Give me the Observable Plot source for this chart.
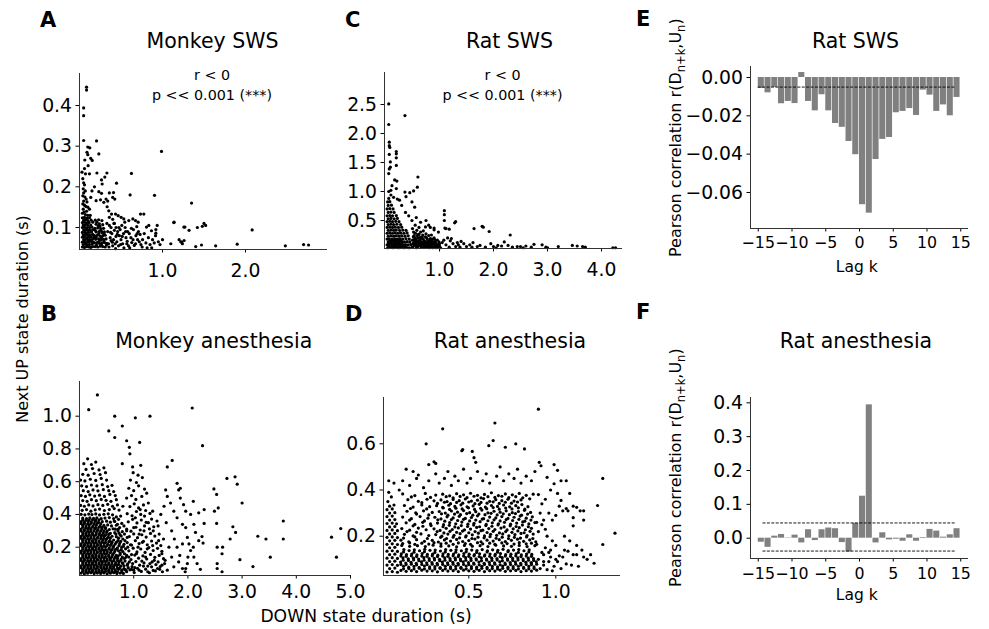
<!DOCTYPE html>
<html><head><meta charset="utf-8">
<script src="https://cdn.jsdelivr.net/npm/d3@7"></script>
<script src="https://cdn.jsdelivr.net/npm/@observablehq/plot@0.6"></script>
<style>
body{margin:0;background:#fff;}
#fig{position:relative;width:989px;height:629px;overflow:hidden;background:#fff;font-family:"DejaVu Sans",sans-serif;}
</style></head>
<body><div id="fig"></div>
<script>
// ---------- DATA (x = DOWN state duration s, y = next UP state duration s), flat pairs ----------
const monkeySWS = [
.085,.445, .085,.438, .05,.394, .05,.375, .05,.314, .205,.313, .10,.298, .124,.296, .233,.281, .09,.285, .10,.279, .988,.287, .135,.27, .153,.265, .064,.266, .104,.252, .06,.245, .03,.236, .072,.232, .12,.232, .21,.234, .33,.234, .305,.224, .265,.217, .273,.207, .626,.233, .446,.209, .904,.179, .61,.18, 1.35,.16, .233,.188, .265,.184, .36,.185, .41,.186, .40,.174, .425,.17, .32,.17, .34,.165, .15,.19, .18,.20,
1.136,.112, 1.27,.101, 1.32,.093, 1.42,.10, 1.48,.103, 1.50,.11, 1.52,.105, 2.08,.094, .92,.095, .92,.086, 1.0,.07, 1.10,.06, 1.20,.07, 1.22,.065, 1.24,.06, 1.26,.068, 1.40,.053, 1.47,.057, 1.64,.055, 1.90,.059, 2.48,.055, 2.70,.058, 2.76,.057, 1.14,.113, 1.257,.101, 1.23,.064,
.136,.174, .20,.166, .253,.168, .293,.162, .333,.151, .353,.141, .386,.133, .434,.133, .466,.129, .502,.125, .534,.121, .546,.113, .594,.117, .643,.121, .675,.117, .707,.113, .735,.133, .775,.133, .807,.101, .835,.105, .867,.092, .916,.08, .936,.105,
.55,.10, .58,.09, .60,.085, .62,.075, .65,.095, .68,.08, .70,.07, .72,.065, .74,.058, .76,.07, .78,.085, .80,.062, .83,.075, .85,.058, .88,.07, .90,.062, .95,.065, .97,.058, .40,.12, .42,.11, .44,.10, .46,.09, .48,.08, .50,.07, .52,.06, .45,.065, .47,.055, .49,.095, .51,.105, .53,.085, .56,.075, .57,.06, .59,.055, .63,.063, .66,.056, .69,.102, .71,.09, .73,.083, .36,.125, .38,.10, .39,.085, .41,.07, .43,.06, .35,.06, .37,.075, .42,.093, .44,.078, .33,.11, .34,.09, .36,.105, .38,.068, .40,.055,
.355,.052, .375,.088, .395,.064, .415,.11, .435,.048, .455,.083, .475,.10, .495,.058, .515,.078, .535,.05, .555,.09, .575,.066, .605,.05, .625,.098, .645,.07, .675,.06, .695,.085, .755,.052, .815,.05, .87,.05,
.04,.22, .05,.21, .06,.205, .045,.195, .07,.19, .05,.185, .04,.178, .065,.175, .08,.17, .05,.165, .09,.163, .04,.158, .06,.155, .075,.152, .10,.15, .045,.145, .12,.145, .085,.14, .055,.138, .035,.135, .07,.132, .10,.13, .13,.13,
.035,.052, .06,.051, .085,.053, .11,.052, .135,.051, .16,.053,
.045,.058, .07,.059, .095,.057, .12,.058, .15,.059,
.035,.064, .06,.065, .085,.063, .11,.064, .14,.066, .165,.064,
.05,.070, .075,.071, .10,.069, .125,.070, .155,.071,
.035,.076, .06,.077, .09,.075, .115,.076, .14,.077, .17,.075,
.045,.082, .07,.083, .10,.081, .13,.082, .16,.083,
.035,.088, .06,.089, .085,.087, .11,.088, .145,.089,
.05,.094, .075,.095, .10,.093, .13,.094, .165,.095,
.035,.100, .06,.101, .09,.099, .12,.100, .15,.101,
.045,.106, .07,.107, .10,.105, .135,.106,
.035,.112, .06,.113, .085,.111, .115,.112, .16,.113,
.05,.118, .075,.119, .10,.117, .14,.118,
.035,.124, .06,.125, .09,.123, .12,.124,
.19,.053, .22,.052, .25,.054, .28,.053, .31,.052,
.18,.062, .21,.063, .24,.061, .27,.062, .30,.063, .33,.061,
.195,.071, .23,.072, .26,.070, .29,.071, .32,.072,
.18,.080, .215,.081, .25,.079, .28,.080, .31,.081,
.20,.089, .235,.090, .27,.088, .30,.089,
.185,.098, .22,.099, .255,.097, .29,.098,
.20,.108, .24,.109, .28,.107,
.19,.118, .23,.119, .27,.117,
.205,.057, .235,.066, .265,.057, .295,.067, .325,.057, .20,.076, .232,.085, .265,.075, .295,.085, .19,.093, .225,.104, .26,.093, .21,.113, .245,.103
];

const ratSWS = [
.06,2.51, .06,2.155, .36,2.31, .07,1.79, .07,1.85, .08,1.76, .20,1.69, .20,1.65, .07,1.64, .06,1.31, .07,1.39, .20,1.58, .20,1.45, .09,1.51, .09,1.42, .17,1.20, .21,1.18, .12,1.10, .20,1.05, .10,1.02, .06,1.00, .60,1.25, .59,1.075, .52,1.01, .45,.98, .36,.99, .38,.91, .49,.82, .54,.73, .10,.94, .15,.90, .22,.87, .26,.85, 1.09,.67, 1.09,.60, 1.09,.50, 1.10,.37, 1.12,.36, 1.18,.35, 1.28,.46, 1.30,.48, 1.64,.36, 1.79,.40, 1.81,.385, 1.92,.31, 2.31,.25, .75,.50, .80,.42, .90,.34, .98,.30, .30,.76, .37,.64, .43,.58, .49,.50, .57,.55, .65,.47, .74,.39, .83,.38, .90,.37, .68,.22, .75,.27, .80,.24, .86,.18,
2.20,.13, 2.27,.07, 2.60,.06, 2.75,.09, 2.90,.08, 2.97,.04, 3.20,.05, 3.46,.07, 3.55,.06, 3.65,.05, 4.21,.03, 4.26,.03, 2.44,.05, 2.50,.05, 2.00,.05, 2.08,.07, 2.15,.06, 1.95,.10, 2.05,.03, 1.56,.08, 1.62,.12, 1.70,.05, 1.40,.14, 1.45,.10, 1.50,.05, 1.20,.15, 1.25,.10, 1.33,.12, 1.30,.05, 1.15,.20, 1.12,.08, 1.60,.04, 1.75,.07, 1.85,.04, 1.35,.08, 1.38,.04, 1.05,.12, 1.00,.06, 1.02,.03, 1.08,.16, 1.18,.04, 1.22,.19, 2.35,.04, 2.55,.03, 2.70,.04, 3.00,.03, 3.70,.04,
.52,.30, .55,.20, .58,.12, .60,.05, .62,.26, .64,.16, .66,.08, .70,.18, .72,.10, .74,.04, .78,.14, .80,.07, .84,.11, .88,.05, .92,.13, .95,.08, .98,.04, .90,.20, .85,.25, .70,.32, .62,.38, .55,.42, .50,.36, .53,.24, .56,.14, .60,.20, .65,.30, .68,.12, .72,.06, .76,.20, .82,.16, .86,.09, .93,.06, 1.00,.10, .58,.33, .50,.16, .54,.07, .63,.10, .78,.04, .96,.16, .57,.03, .61,.15, .67,.04, .69,.25, .73,.14, .77,.09, .81,.03, .83,.19, .89,.12, .94,.03, .99,.13, .51,.10, .59,.24, .64,.06,
.505,.045, .525,.12, .545,.085, .565,.17, .585,.05, .605,.11, .625,.07, .645,.21, .655,.13, .675,.05, .69,.09, .71,.15, .725,.035, .745,.12, .76,.07, .775,.18, .795,.10, .81,.05, .825,.13, .845,.07, .86,.15, .875,.03, .895,.09, .915,.05, .935,.11, .955,.04, .975,.08, .995,.05, .53,.17, .57,.09, .61,.26, .66,.19, .70,.04, .74,.22, .79,.13, .83,.04, .87,.11, .91,.17, .515,.22, .555,.28,
.04,.03, .09,.035, .14,.03, .19,.035, .24,.03, .29,.035, .34,.03, .39,.035, .44,.03, .49,.035,
.03,.08, .07,.085, .12,.08, .17,.085, .22,.08, .27,.085, .32,.08, .37,.085, .42,.08, .47,.085,
.05,.13, .10,.135, .15,.13, .20,.135, .25,.13, .30,.135, .35,.13, .40,.135, .45,.13,
.03,.18, .07,.185, .12,.18, .17,.185, .22,.18, .27,.185, .32,.18, .38,.185, .44,.18,
.05,.23, .10,.235, .15,.23, .20,.235, .25,.23, .30,.235, .36,.23, .42,.235,
.03,.28, .08,.285, .13,.28, .18,.285, .23,.28, .28,.285, .34,.28, .40,.285,
.05,.33, .10,.335, .15,.33, .20,.335, .26,.33, .32,.335, .38,.33,
.03,.38, .08,.385, .13,.38, .18,.385, .24,.38, .30,.385,
.05,.43, .10,.435, .15,.43, .21,.435, .28,.43,
.03,.48, .08,.485, .13,.48, .19,.485, .25,.48,
.05,.53, .10,.535, .16,.53, .22,.535,
.03,.58, .08,.585, .13,.58, .20,.585,
.05,.64, .10,.645, .16,.64,
.03,.70, .08,.705, .14,.70,
.05,.76, .11,.765,
.04,.82, .08,.825,
.06,.88,
.06,.055, .115,.06, .165,.055, .215,.06, .265,.055, .315,.06, .365,.055,
.055,.105, .105,.11, .155,.105, .205,.11, .255,.105, .305,.11,
.08,.155, .13,.16, .18,.155, .23,.16, .28,.155
];

const monkeyAnes = [
.33,1.13, .17,1.04, .65,1.0, 1.03,.99, 1.30,1.0, 2.08,1.05, .54,.91, .79,.94, .65,.87, .87,.85, .92,.81, .93,.77, 1.11,.84, .15,.74, 2.27,.82, 1.71,.73, 1.62,.69, .79,.71, .98,.69, 1.13,.70, 2.72,.62, 2.87,.63, 2.91,.585, 3.0,.47, 2.1,.48, 1.86,.56, 2.48,.556, 2.53,.522, 2.56,.44, 2.53,.345, 2.49,.42, 2.2,.41, 2.3,.43, 2.3,.345, 2.26,.265, 2.28,.225, 2.83,.325, 2.78,.25, 2.88,.29, 3.29,.267, 3.44,.25, 3.76,.36, 3.76,.25, 3.52,.139, 2.96,.124, 3.2,.082, 2.54,.2, 2.64,.2, 2.63,.16, 2.54,.1, 2.54,.07, 2.63,.05, 2.23,.065, 1.96,.07, 4.65,.261, 4.74,.139, 4.82,.314,
1.59,.55, 1.62,.51, 1.68,.47, 1.74,.42, 1.80,.38, 1.9,.34, 1.96,.32, 1.99,.26, 2.02,.22, 2.05,.18, 2.11,.14, 2.17,.10, 1.99,.10, 1.9,.07, 1.74,.08, 1.62,.06, 1.80,.59, 1.83,.55, 1.86,.5, 1.92,.46, 1.96,.42, 2.05,.40, 2.11,.34, 2.14,.29, 2.2,.24, 1.7,.3, 1.75,.25, 1.8,.2, 1.85,.15, 1.9,.22, 1.6,.35, 1.65,.2, 1.55,.25, 1.7,.14, 1.58,.12, 2.0,.14, 2.1,.2, 1.95,.05, 1.83,.11, 1.5,.4, 1.52,.16, 1.56,.45,
.87,.05, .93,.062, 1.01,.045, 1.07,.071, 1.14,.052, 1.22,.066, 1.29,.044, 1.36,.058, 1.44,.07, 1.53,.05,
.89,.098, .97,.081, 1.04,.112, 1.11,.09, 1.19,.104, 1.26,.085, 1.34,.11, 1.41,.094, 1.49,.082, 1.57,.10,
.86,.14, .95,.125, 1.02,.152, 1.09,.133, 1.17,.147, 1.24,.128, 1.31,.156, 1.39,.138, 1.47,.15, 1.55,.13,
.91,.178, .99,.194, 1.06,.171, 1.13,.189, 1.21,.168, 1.28,.198, 1.36,.18, 1.44,.193, 1.52,.175,
.88,.228, .96,.213, 1.03,.24, 1.10,.222, 1.18,.236, 1.25,.215, 1.33,.238, 1.42,.225, 1.50,.21,
.92,.265, 1.0,.281, 1.07,.258, 1.15,.276, 1.23,.262, 1.31,.284, 1.39,.268, 1.47,.28,
.87,.31, .95,.298, 1.04,.322, 1.12,.305, 1.2,.33, 1.29,.312, 1.37,.325,
.9,.355, .98,.37, 1.06,.348, 1.14,.366, 1.23,.352, 1.33,.372, 1.43,.36,
.88,.405, .97,.392, 1.05,.418, 1.13,.40, 1.22,.424, 1.30,.406,
.93,.448, 1.01,.465, 1.09,.44, 1.18,.458, 1.27,.47,
.87,.50, .96,.515, 1.04,.492, 1.15,.51, 1.24,.53,
.91,.56, 1.0,.545, 1.09,.575, 1.2,.555,
.94,.61, 1.05,.595, 1.16,.625,
.99,.655, 1.08,.64,
1.02,.075, 1.10,.06, 1.18,.085, 1.26,.05, 1.33,.08, 1.40,.055, 1.48,.065,
1.05,.16, 1.15,.115, 1.22,.14, 1.30,.10, 1.38,.12, 1.45,.11, 1.52,.09,
1.08,.20, 1.16,.23, 1.25,.19, 1.35,.21, 1.46,.24,
1.0,.32, 1.10,.28, 1.19,.30, 1.27,.35, 1.36,.30, 1.45,.33,
1.03,.38, 1.12,.43, 1.20,.39, 1.35,.42,
.70,.05, .74,.072, .78,.048, .82,.07, .86,.06, .90,.075, .96,.065, 1.0,.06,
.72,.095, .76,.12, .80,.10, .84,.115, .88,.09, .92,.11, .98,.10,
.71,.145, .75,.165, .79,.14, .83,.16, .87,.15, .91,.14, .96,.155,
.69,.19, .73,.21, .77,.185, .81,.205, .85,.19, .89,.20, .94,.215,
.68,.23, .72,.255, .76,.235, .80,.25, .84,.24, .88,.26,
.67,.28, .71,.30, .75,.275, .79,.295, .83,.28, .87,.30,
.66,.31, .70,.34, .74,.32, .78,.345, .82,.33,
.64,.36, .68,.385, .72,.37, .76,.39,
.03,.042, .09,.038, .15,.041, .21,.044, .27,.039, .33,.042, .39,.04, .45,.043, .51,.038, .57,.041, .63,.044, .69,.039, .75,.042, .81,.04,
.06,.063, .12,.06, .18,.065, .24,.061, .30,.064, .36,.059, .42,.063, .48,.066, .54,.06, .60,.064, .66,.061, .72,.065, .78,.06, .84,.063,
.03,.086, .09,.083, .15,.087, .21,.084, .27,.088, .33,.083, .39,.086, .45,.082, .51,.087, .57,.085, .63,.083, .69,.088, .76,.084, .82,.086,
.06,.108, .12,.105, .18,.11, .24,.106, .30,.109, .36,.104, .42,.108, .48,.111, .54,.105, .60,.109, .67,.106, .73,.11, .79,.104,
.03,.131, .09,.128, .15,.132, .21,.129, .27,.133, .33,.127, .39,.131, .45,.134, .51,.128, .57,.132, .64,.129, .70,.133, .77,.128, .83,.131,
.06,.153, .12,.15, .18,.155, .24,.151, .30,.154, .36,.149, .42,.153, .48,.156, .54,.15, .61,.154, .68,.151, .75,.155,
.03,.176, .09,.173, .15,.177, .21,.174, .27,.178, .33,.172, .39,.176, .45,.179, .51,.173, .58,.177, .65,.174, .72,.178, .80,.173,
.06,.198, .12,.195, .18,.2, .24,.196, .30,.199, .36,.194, .42,.198, .48,.201, .55,.195, .62,.199, .70,.196, .78,.2,
.03,.221, .09,.218, .15,.222, .21,.219, .27,.223, .33,.217, .39,.221, .46,.224, .52,.218, .59,.222, .66,.219, .74,.223, .82,.218,
.06,.243, .12,.24, .18,.245, .24,.241, .30,.244, .36,.239, .43,.243, .49,.246, .56,.24, .63,.244, .71,.241,
.03,.266, .09,.263, .15,.267, .21,.264, .27,.268, .34,.262, .40,.266, .46,.269, .53,.263, .60,.267, .68,.264, .77,.268,
.06,.288, .12,.285, .18,.29, .24,.286, .31,.289, .37,.284, .44,.288, .50,.291, .57,.285, .65,.289, .73,.286,
.03,.311, .09,.308, .15,.312, .21,.309, .28,.313, .34,.307, .41,.311, .48,.314, .55,.308, .62,.312, .71,.309,
.06,.333, .12,.33, .18,.335, .25,.331, .31,.334, .38,.329, .45,.333, .52,.336, .59,.33, .68,.334,
.03,.356, .09,.353, .16,.357, .22,.354, .29,.358, .35,.352, .42,.356, .50,.359, .57,.353, .65,.357,
.06,.378, .13,.375, .19,.38, .26,.376, .32,.379, .40,.374, .47,.378, .55,.381, .63,.375,
.03,.401, .10,.398, .17,.402, .23,.399, .30,.403, .37,.397, .45,.401, .53,.404, .61,.398,
.06,.052, .12,.05, .18,.053, .24,.051, .30,.05, .36,.052, .42,.051, .48,.053, .54,.05, .60,.052, .66,.051,
.03,.074, .09,.075, .15,.073, .21,.074, .27,.076, .33,.073, .39,.075, .45,.074, .51,.073, .57,.075, .63,.074, .70,.073,
.06,.097, .12,.095, .18,.096, .24,.098, .30,.095, .36,.097, .42,.096, .48,.095, .54,.098, .60,.096, .66,.095,
.03,.119, .09,.12, .15,.118, .21,.12, .27,.119, .33,.121, .39,.118, .45,.12, .51,.119, .57,.121, .63,.118, .70,.12,
.06,.142, .12,.14, .18,.141, .24,.143, .30,.14, .36,.142, .42,.141, .48,.14, .54,.143, .60,.141, .66,.14,
.03,.164, .09,.165, .15,.163, .21,.165, .27,.164, .33,.166, .39,.163, .45,.165, .51,.164, .57,.166, .63,.163,
.06,.187, .12,.185, .18,.186, .24,.188, .30,.185, .36,.187, .42,.186, .48,.185, .54,.188, .60,.186, .66,.185,
.03,.209, .09,.21, .15,.208, .21,.21, .27,.209, .33,.211, .39,.208, .45,.21, .51,.209, .57,.211, .63,.208,
.06,.232, .12,.23, .18,.231, .24,.233, .30,.23, .36,.232, .42,.231, .48,.23, .54,.233, .60,.231,
.03,.254, .09,.255, .15,.253, .21,.255, .27,.254, .33,.256, .39,.253, .45,.255, .51,.254, .57,.256,
.06,.277, .12,.275, .18,.276, .24,.278, .30,.275, .36,.277, .42,.276, .48,.275, .54,.278,
.03,.299, .09,.30, .15,.298, .21,.30, .27,.299, .33,.301, .39,.298, .45,.30, .51,.299,
.06,.322, .12,.32, .18,.321, .24,.323, .30,.32, .36,.322, .42,.321, .48,.32,
.03,.344, .09,.345, .15,.343, .21,.345, .27,.344, .33,.346, .39,.343,
.06,.367, .12,.365, .18,.366, .24,.368, .30,.365, .36,.367,
.05,.425, .13,.43, .21,.42, .29,.428, .37,.433, .46,.424, .55,.43, .64,.436, .73,.427,
.02,.455, .09,.45, .17,.458, .25,.452, .34,.46, .43,.455, .52,.462, .61,.45, .70,.458, .80,.45,
.06,.485, .14,.48, .22,.49, .31,.484, .40,.492, .49,.486, .58,.48, .68,.49,
.03,.515, .11,.51, .19,.52, .28,.512, .37,.518, .46,.51, .56,.522, .66,.515,
.07,.545, .16,.54, .25,.55, .34,.544, .44,.552, .54,.545, .63,.54,
.04,.575, .13,.57, .22,.58, .32,.574, .42,.582, .52,.57, .60,.578,
.02,.61, .10,.605, .20,.615, .30,.608, .40,.62, .50,.61,
.06,.645, .16,.64, .27,.65, .38,.644, .48,.655,
.12,.675, .24,.68, .36,.672, .45,.685,
.08,.71, .22,.705, .30,.72
];

const ratAnes = [
.90,.75, .65,.69, .35,.665, .64,.614, .615,.592, .71,.585, .77,.60, .82,.578, .255,.60, .46,.57, .465,.575, .52,.567, .53,.54, .54,.52, .30,.522, .31,.515, .27,.51, .18,.48, .21,.465, .14,.49, .905,.52, .915,.505, .99,.51, 1.01,.485, 1.03,.44, 1.27,.45, 1.34,.213, 1.27,.164, 1.22,.083, 1.24,.333, 1.16,.27, 1.16,.31, 1.14,.31, 1.10,.28, 1.10,.245, 1.07,.31, 1.06,.32, 1.10,.33, 1.04,.31, 1.02,.33, .98,.27, 1.0,.29, 1.05,.14, 1.07,.135, 1.10,.12, 1.12,.12, 1.16,.11, 1.18,.10, 1.06,.08, 1.09,.075, 1.0,.10, 1.02,.115, .97,.14, .93,.075, .86,.085,
.95,.455, .99,.427, .97,.40, 1.01,.385, 1.03,.355, 1.08,.385, 1.06,.44, 1.12,.325, .94,.36, .96,.3, .92,.25, .95,.2, .98,.18, 1.0,.16, 1.05,.2, 1.08,.18, 1.12,.16, 1.15,.14, 1.2,.12, .93,.12, .96,.09, 1.03,.06, 1.13,.07,
.91,.06, .93,.09, .95,.055, .97,.11, .99,.07, .92,.13, .94,.15, .98,.05, 1.01,.09, .90,.10, .96,.13, 1.04,.11, .90,.22, .91,.30, .93,.27, .92,.34, .90,.38, .94,.23, .89,.26,
.04,.44, .07,.43, .10,.40, .12,.44, .16,.42, .20,.45, .24,.41, .27,.44, .31,.47, .33,.43, .36,.45, .38,.48, .40,.42, .42,.46, .44,.44, .47,.49, .49,.43, .51,.45, .55,.48, .58,.44, .60,.47, .62,.43, .66,.46, .68,.50, .70,.44, .73,.47, .76,.45, .78,.49, .80,.43, .83,.46, .86,.44, .88,.48,
.03,.045, .06,.047, .09,.044, .045,.06, .075,.062, .03,.075, .06,.077, .09,.074, .045,.09, .075,.092, .03,.105, .06,.107, .09,.104, .045,.12, .075,.122, .03,.135, .06,.137, .09,.134, .045,.15, .075,.152, .03,.165, .06,.167, .09,.164, .045,.18, .075,.182, .03,.195, .06,.197, .09,.194, .045,.21, .075,.212, .03,.225, .06,.227, .09,.224, .045,.24, .075,.242, .03,.255, .06,.257, .085,.254, .045,.27, .075,.272, .03,.285, .06,.287, .045,.30, .075,.302, .03,.315, .06,.318, .045,.33, .07,.335, .035,.35, .055,.37, .04,.39,
.11,.052, .14,.048, .17,.051, .20,.047, .23,.053, .26,.049, .29,.05, .32,.046, .35,.052, .38,.049, .41,.051, .44,.047, .47,.053, .50,.05, .53,.048, .56,.052, .59,.047, .62,.051, .65,.049, .68,.053, .71,.048, .74,.05, .77,.052, .80,.047, .83,.051, .86,.049, .89,.053,
.125,.07, .155,.066, .185,.069, .215,.065, .245,.071, .275,.067, .305,.068, .335,.064, .365,.07, .395,.067, .425,.069, .455,.065, .485,.071, .515,.068, .545,.066, .575,.07, .605,.065, .635,.069, .665,.067, .695,.071, .725,.066, .755,.068, .785,.07, .815,.065, .845,.069, .875,.067,
.108,.088, .138,.084, .168,.087, .198,.083, .228,.089, .258,.085, .288,.086, .318,.082, .348,.088, .378,.085, .408,.087, .438,.083, .468,.089, .498,.086, .528,.084, .558,.088, .588,.083, .618,.087, .648,.085, .678,.089, .708,.084, .738,.086, .768,.088, .798,.083, .828,.087, .858,.085, .888,.089,
.122,.106, .152,.102, .182,.105, .212,.101, .242,.107, .272,.103, .302,.104, .332,.10, .362,.106, .392,.103, .422,.105, .452,.101, .482,.107, .512,.104, .542,.102, .572,.106, .602,.101, .632,.105, .662,.103, .692,.107, .722,.102, .752,.104, .782,.106, .812,.101, .842,.105, .872,.103,
.112,.124, .142,.12, .172,.123, .202,.119, .232,.125, .262,.121, .292,.122, .322,.118, .352,.124, .382,.121, .412,.123, .442,.119, .472,.125, .502,.122, .532,.12, .562,.124, .592,.119, .622,.123, .652,.121, .682,.125, .712,.12, .742,.122, .772,.124, .802,.119, .832,.123, .862,.121,
.127,.142, .157,.138, .187,.141, .217,.137, .247,.143, .277,.139, .307,.14, .337,.136, .367,.142, .397,.139, .427,.141, .457,.137, .487,.143, .517,.14, .547,.138, .577,.142, .607,.137, .637,.141, .667,.139, .697,.143, .727,.138, .757,.14, .787,.142, .817,.137, .847,.141,
.115,.16, .16,.156, .205,.159, .25,.155, .295,.161, .34,.157, .385,.158, .43,.154, .475,.16, .52,.157, .565,.159, .61,.155, .655,.161, .70,.158, .745,.156, .79,.16, .835,.155, .88,.159,
.12,.168, .16,.171, .19,.165, .23,.17, .27,.166, .30,.172, .34,.167, .37,.17, .41,.165, .44,.171, .48,.168, .51,.165, .55,.172, .58,.167, .62,.17, .65,.165, .69,.171, .72,.168, .76,.166, .79,.172, .83,.167, .86,.17, .89,.165,
.125,.059, .155,.06, .185,.058, .215,.061, .245,.059, .275,.06, .305,.058, .335,.061, .365,.059, .395,.06, .425,.058, .455,.061, .485,.059, .515,.06, .545,.058, .575,.061, .605,.059, .635,.06, .665,.058, .695,.061, .725,.059, .755,.06, .785,.058, .815,.061, .845,.059, .875,.06,
.11,.078, .14,.077, .17,.079, .20,.076, .23,.078, .26,.077, .29,.079, .32,.076, .35,.078, .38,.077, .41,.079, .44,.076, .47,.078, .50,.077, .53,.079, .56,.076, .59,.078, .62,.077, .65,.079, .68,.076, .71,.078, .74,.077, .77,.079, .80,.076, .83,.078, .86,.077, .89,.079,
.123,.096, .153,.095, .183,.097, .213,.094, .243,.096, .273,.095, .303,.097, .333,.094, .363,.096, .393,.095, .423,.097, .453,.094, .483,.096, .513,.095, .543,.097, .573,.094, .603,.096, .633,.095, .663,.097, .693,.094, .723,.096, .753,.095, .783,.097, .813,.094, .843,.096, .873,.095,
.11,.114, .14,.113, .17,.115, .20,.112, .23,.114, .26,.113, .29,.115, .32,.112, .35,.114, .38,.113, .41,.115, .44,.112, .47,.114, .50,.113, .53,.115, .56,.112, .59,.114, .62,.113, .65,.115, .68,.112, .71,.114, .74,.113, .77,.115, .80,.112, .83,.114, .86,.113,
.125,.132, .185,.131, .245,.133, .305,.13, .365,.132, .425,.131, .485,.133, .545,.13, .605,.132, .665,.131, .725,.133, .785,.13, .845,.132,
.11,.183, .155,.176, .20,.185, .245,.178, .29,.182, .325,.175, .36,.184, .395,.179, .43,.186, .465,.177, .50,.181, .535,.188, .57,.176, .605,.183, .64,.179, .675,.185, .71,.177, .745,.182, .78,.187, .815,.178, .85,.184, .885,.176,
.13,.208, .18,.201, .225,.21, .27,.203, .31,.207, .345,.20, .38,.209, .415,.204, .45,.211, .485,.202, .52,.206, .555,.213, .59,.201, .625,.208, .66,.204, .695,.21, .73,.202, .765,.207, .80,.212, .835,.203, .87,.209,
.115,.233, .16,.226, .21,.235, .255,.228, .30,.232, .335,.225, .37,.234, .405,.229, .44,.236, .475,.227, .51,.231, .545,.238, .58,.226, .615,.233, .65,.229, .685,.235, .72,.227, .755,.232, .79,.237, .825,.228, .86,.234,
.14,.258, .19,.251, .235,.26, .28,.253, .32,.257, .355,.25, .39,.259, .425,.254, .46,.261, .495,.252, .53,.256, .565,.263, .60,.251, .635,.258, .67,.254, .705,.26, .74,.252, .775,.257, .81,.262, .845,.253, .88,.259,
.12,.283, .17,.276, .22,.285, .265,.278, .305,.282, .34,.275, .375,.284, .41,.279, .445,.286, .48,.277, .515,.281, .55,.288, .585,.276, .62,.283, .655,.279, .69,.285, .725,.277, .76,.282, .795,.287, .83,.278, .865,.284,
.145,.308, .195,.301, .24,.31, .29,.303, .33,.307, .365,.30, .40,.309, .435,.304, .47,.311, .505,.302, .54,.306, .575,.313, .61,.301, .645,.308, .68,.304, .715,.31, .75,.302, .785,.307, .82,.312, .855,.303,
.13,.333, .18,.326, .23,.335, .275,.328, .315,.332, .35,.325, .385,.334, .42,.329, .455,.336, .49,.327, .525,.331, .56,.338, .595,.326, .63,.333, .665,.329, .70,.335, .735,.327, .77,.332, .805,.337, .84,.328,
.15,.358, .21,.351, .26,.36, .30,.353, .34,.357, .375,.35, .41,.359, .445,.354, .48,.361, .515,.352, .55,.356, .585,.363, .62,.351, .655,.358, .69,.354, .725,.36, .76,.352, .80,.357, .85,.362,
.12,.383, .19,.376, .25,.385, .31,.378, .35,.382, .39,.375, .43,.384, .47,.379, .51,.386, .55,.377, .59,.381, .63,.388, .67,.376, .71,.383, .75,.379, .79,.385, .83,.377, .87,.382,
.125,.192, .19,.197, .262,.19, .338,.195, .372,.19, .41,.196, .447,.193, .482,.197, .518,.19, .553,.196, .588,.193, .622,.198, .657,.191, .692,.196, .728,.19, .762,.195, .797,.192, .832,.197, .868,.19,
.145,.22, .20,.217, .318,.22, .357,.214, .392,.221, .43,.217, .464,.222, .50,.215, .536,.22, .57,.224, .605,.216, .64,.221, .676,.214, .712,.22, .748,.217, .782,.223, .818,.215, .852,.221,
.18,.245, .236,.243, .283,.246, .352,.241, .388,.247, .42,.24, .457,.246, .493,.242, .528,.248, .562,.241, .598,.246, .633,.243, .668,.249, .703,.24, .738,.245, .772,.242, .808,.248, .842,.241,
.16,.27, .245,.266, .322,.271, .362,.265, .40,.272, .436,.268, .47,.273, .505,.266, .54,.27, .577,.274, .61,.267, .645,.271, .68,.266, .715,.272, .752,.268, .788,.273, .822,.265, .857,.27,
.20,.296, .27,.292, .343,.297, .38,.291, .418,.296, .452,.293, .488,.298, .523,.291, .558,.296, .593,.293, .628,.299, .663,.292, .698,.297, .733,.293, .768,.298, .803,.291, .838,.296,
.165,.32, .258,.318, .353,.322, .39,.316, .426,.321, .462,.318, .498,.323, .533,.316, .568,.321, .603,.319, .64,.324, .675,.317, .712,.322, .748,.318, .785,.323, .822,.317,
.23,.345, .32,.342, .36,.347, .395,.341, .43,.346, .465,.343, .50,.348, .535,.341, .57,.346, .605,.343, .64,.349, .675,.342, .71,.347, .745,.343, .78,.348,
.17,.37, .28,.368, .37,.371, .41,.366, .45,.372, .49,.367, .53,.373, .57,.366, .61,.371, .65,.368, .69,.373, .73,.367, .77,.371, .81,.366
];

// Lagged correlations r(D_{n+k}, U_n)
const lagK = [-15,-14,-13,-12,-11,-10,-9,-8,-7,-6,-5,-4,-3,-2,-1,0,1,2,3,4,5,6,7,8,9,10,11,12,13,14];
const corrRatSWS = [-.0057,-.008,-.0052,-.0137,-.0125,-.0136,.0026,-.0125,-.0174,-.009,-.0174,-.024,-.026,-.0334,-.0403,-.0664,-.0708,-.0428,-.0323,-.0313,-.0184,-.0177,-.0162,-.0198,-.0066,-.0092,-.0177,-.0143,-.020,-.0104];
const corrRatAnes = [-.012,-.027,.006,.011,.001,.009,-.014,.025,-.007,.025,.03,.028,-.013,-.041,.044,.124,.394,-.014,.016,-.005,-.003,-.009,.01,-.009,.002,.026,.021,.003,.01,.028];
const sigRatSWS = [-0.005];
const sigRatAnes = [0.045, -0.038];

// tick values
const ticksA = {x: [1, 2], y: [0.1, 0.2, 0.3, 0.4]};
const ticksB = {x: [1, 2, 3, 4, 5], y: [0.2, 0.4, 0.6, 0.8, 1.0]};
const ticksC = {x: [1, 2, 3, 4], y: [0.5, 1.0, 1.5, 2.0, 2.5]};
const ticksD = {x: [0.5, 1.0], y: [0.2, 0.4, 0.6]};
const ticksLag = [-15, -10, -5, 0, 5, 10, 15];
const ticksE = [0, -0.02, -0.04, -0.06];
const ticksF = [0, 0.1, 0.2, 0.3, 0.4];

// ---------- RENDER ----------
const fig = document.getElementById("fig");
const toPts = a => d3.range(0, a.length, 2).map(i => ({x: a[i], y: a[i + 1]}));
const M = {l: 70, r: 16, t: 10, b: 45};
const f1 = d3.format(".1f"), f2 = d3.format(".2f"), fd = d3.format("d");
const SPINE = "#333";

function panel({box, xd, yd, xt, yt, xf, yf, xPad, xFont, marks}) {
  const [L, T, R, B] = box;
  const p = Plot.plot({
    width: R - L + M.l + M.r, height: B - T + M.t + M.b,
    marginLeft: M.l, marginRight: M.r, marginTop: M.t, marginBottom: M.b,
    style: {background: "transparent", overflow: "visible", fontFamily: "DejaVu Sans, sans-serif", fontSize: "18.8px", color: "#000"},
    x: {domain: xd, ticks: xt, tickFormat: xf, tickSize: 3.5, tickPadding: xPad, label: null},
    y: {domain: yd, ticks: yt, tickFormat: yf, tickSize: 3.5, tickPadding: 4, label: null},
    marks: [
      ...marks,
      Plot.ruleX([xd[0]], {stroke: SPINE, strokeWidth: 1}),
      Plot.ruleY([yd[0]], {stroke: SPINE, strokeWidth: 1})
    ]
  });
  if (xFont) p.querySelectorAll('[aria-label^="x-axis"] text').forEach(t => { t.style.fontSize = xFont; });
  p.style.position = "absolute";
  p.style.left = (L - M.l) + "px";
  p.style.top = (T - M.t) + "px";
  fig.appendChild(p);
}
const dots = a => Plot.dot(toPts(a), {x: "x", y: "y", r: 1.6, fill: "#000"});

panel({box: [79, 73, 327, 249], xd: [0, 2.988], yd: [0.0459, 0.4787], xt: ticksA.x, yt: ticksA.y, xf: f1, yf: f1, xPad: 11, marks: [dots(monkeySWS)]});
panel({box: [384, 72, 622, 248], xd: [-0.0185, 4.389], yd: [0.0172, 3.052], xt: ticksC.x, yt: ticksC.y, xf: f1, yf: f1, xPad: 11, marks: [dots(ratSWS)]});
panel({box: [79, 381, 350, 575], xd: [0, 5.0], yd: [0.0272, 1.2119], xt: ticksB.x, yt: ticksB.y, xf: f1, yf: f1, xPad: 6, marks: [dots(monkeyAnes)]});
panel({box: [383, 397, 620, 575], xd: [0.0098, 1.3718], yd: [0.0299, 0.8004], xt: ticksD.x, yt: ticksD.y, xf: f1, yf: f1, xPad: 6, marks: [dots(ratAnes)]});

const barData = vals => lagK.map((k, i) => ({k, r: vals[i]}));
const bars = vals => Plot.rect(barData(vals), {x1: d => d.k, x2: d => d.k + 0.9, y1: () => 0, y2: d => d.r, fill: "#808080"});
const dash = (vals, a, b) => Plot.ruleY(vals, {x1: () => a, x2: () => b, stroke: "#000", strokeWidth: 0.9, strokeDasharray: "3,1.4"});

panel({box: [750, 66, 968, 228], xd: [-16.15, 16.15], yd: [-0.0788, 0.00574], xt: ticksLag, yt: ticksE, xf: fd, yf: f2, xPad: 4.5, xFont: "15.8px", marks: [bars(corrRatSWS), dash(sigRatSWS, -15, 14.3)]});
panel({box: [750, 397, 968, 558], xd: [-16.15, 16.15], yd: [-0.06, 0.4157], xt: ticksLag, yt: ticksF, xf: fd, yf: f1, xPad: 5.5, xFont: "15.8px", marks: [bars(corrRatAnes), dash(sigRatAnes, -14.3, 14.3)]});

// ---------- TEXT OVERLAY ----------
const svg = d3.select(fig).append("svg")
  .attr("width", 989).attr("height", 629)
  .style("position", "absolute").style("left", "0px").style("top", "0px")
  .style("pointer-events", "none")
  .attr("font-family", "DejaVu Sans, sans-serif").attr("fill", "#000");
function txt(x, y, s, size, o = {}) {
  const t = svg.append("text").attr("x", x).attr("y", y).attr("font-size", size)
    .attr("text-anchor", o.anchor || "middle").text(s);
  if (o.bold) t.attr("font-weight", "bold");
  return t;
}
[["A", 40, 27], ["C", 345, 27], ["E", 636, 26], ["B", 41, 321], ["D", 345, 321], ["F", 636, 319]]
  .forEach(([s, x, y]) => txt(x, y, s, 21, {anchor: "start", bold: true}));
[["Monkey SWS", 212.5, 47.5], ["Rat SWS", 509.5, 47.5], ["Rat SWS", 855.5, 47.5],
 ["Monkey anesthesia", 213.7, 348], ["Rat anesthesia", 510, 348], ["Rat anesthesia", 856, 348]]
  .forEach(([s, x, y]) => txt(x, y, s, 20.5));
[212, 502.5].forEach(cx => { txt(cx, 80, "r < 0", 14.3); txt(cx, 99.5, "p << 0.001 (***)", 14.3); });
txt(366, 622, "DOWN state duration (s)", 17.2);
svg.append("text").attr("transform", "translate(28,319) rotate(-90)").attr("font-size", 16)
  .attr("text-anchor", "middle").text("Next UP state duration (s)");
txt(856.7, 272, "Lag k", 15.5);
txt(856.7, 599.5, "Lag k", 15.5);
function pearson(x, y) {
  const t = svg.append("text").attr("transform", `translate(${x},${y}) rotate(-90)`)
    .attr("font-size", 16).attr("text-anchor", "start");
  t.append("tspan").text("Pearson correlation r(D");
  t.append("tspan").attr("dy", 4).attr("font-size", 11.5).text("n+k");
  t.append("tspan").attr("dy", -4).text(",U");
  t.append("tspan").attr("dy", 4).attr("font-size", 11.5).text("n");
  t.append("tspan").attr("dy", -4).text(")");
}
pearson(680.5, 257);
pearson(680.5, 587);
</script>
</body></html>
